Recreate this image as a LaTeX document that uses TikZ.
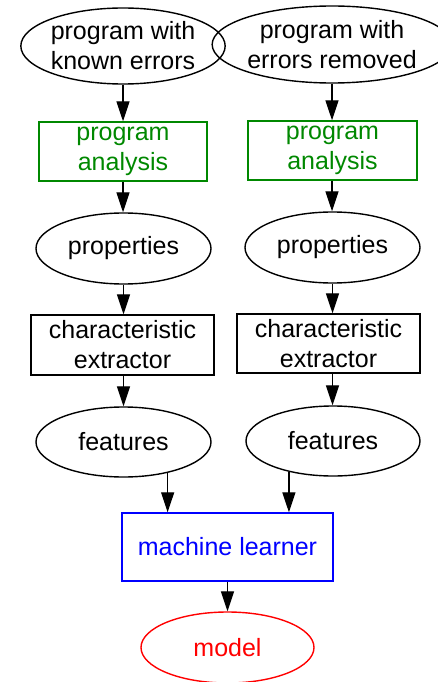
\documentclass[tikz,border=0pt]{standalone}
\usepackage{fontspec}
\setmainfont{Liberation Sans}
\usetikzlibrary{shapes.geometric,arrows.meta}
\definecolor{dgreen}{RGB}{0,136,0}
\begin{document}
\begin{tikzpicture}[x=1pt,y=-1pt,
  every node/.style={font=\fontsize{25}{30}\selectfont, align=center, inner sep=0pt, line width=1.4pt},
  oval/.style={ellipse, draw},
  rbox/.style={rectangle, draw},
  arr/.style={line width=1.3pt, -{Triangle[length=20pt,width=13pt]}}]
\useasboundingbox (0,0) rectangle (438,682);

% left column
\node[oval, minimum width=202pt, minimum height=76pt] (e1) at (123,46) {program with\\known errors};
\node[rbox, draw=dgreen, text=dgreen, minimum width=168pt, minimum height=59pt] (pa1) at (123,151.5) {program\\analysis};
\node[oval, minimum width=175pt, minimum height=71pt] (p1) at (123.5,248.5) {properties};
\node[rbox, minimum width=183pt, minimum height=60pt] (ce1) at (122.5,345) {characteristic\\extractor};
\node[oval, minimum width=175pt, minimum height=70pt] (f1) at (123.5,442) {features};

% right column
\node[oval, minimum width=210pt, minimum height=77pt] (e2) at (332,44.5) {program with\\errors removed};
\node[rbox, draw=dgreen, text=dgreen, minimum width=169pt, minimum height=59pt] (pa2) at (332.5,150.5) {program\\analysis};
\node[oval, minimum width=175pt, minimum height=71pt] (p2) at (332.5,247.5) {properties};
\node[rbox, minimum width=183pt, minimum height=59pt] (ce2) at (328.5,343.5) {characteristic\\extractor};
\node[oval, minimum width=174pt, minimum height=70pt] (f2) at (333,441) {features};

% learner and result
\node[rbox, draw=blue, text=blue, minimum width=211pt, minimum height=68pt] (ml) at (227.5,547) {machine learner};
\node[oval, draw=red, text=red, minimum width=173pt, minimum height=71pt] (mo) at (227.5,647.5) {model};

% left chain
\draw[arr] (e1.south) -- (e1.south |- pa1.north);
\draw[arr] (pa1.south -| e1.south) -- (e1.south |- p1.north);
\draw[arr] (p1.south) -- (p1.south |- ce1.north);
\draw[arr] (ce1.south -| p1.south) -- (f1.north);

% right chain
\draw[arr] (e2.south) -- (e2.south |- pa2.north);
\draw[arr] (pa2.south -| e2.south) -- (e2.south |- p2.north);
\draw[arr] (p2.south) -- (p2.south |- ce2.north);
\draw[arr] (ce2.south -| p2.south) -- (p2.south |- f2.north);

% merge into the learner
\draw[arr] (f1.-35) -- (f1.-35 |- ml.north);
\draw[arr] (f2.-145) -- (f2.-145 |- ml.north);
\draw[arr] (ml.south) -- (mo.north);
\end{tikzpicture}
\end{document}
